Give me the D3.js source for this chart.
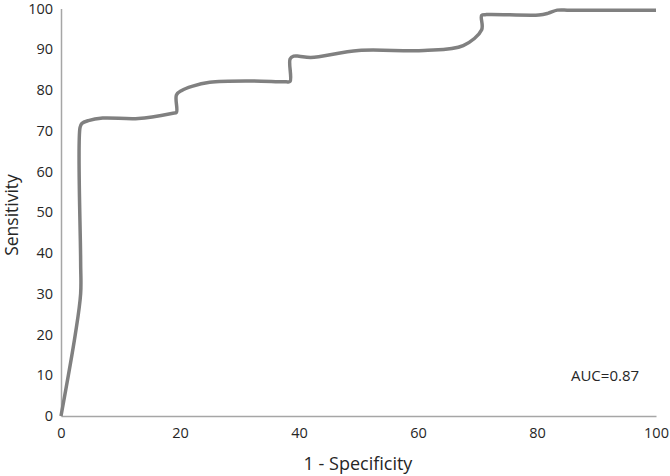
<!DOCTYPE html>
<html><head><meta charset="utf-8">
<script src="https://cdn.jsdelivr.net/npm/d3@7"></script>
<style>body{margin:0;background:#fff}</style>
</head><body>
<svg id="c" width="670" height="476"></svg>
<script>
const fpr = [0, 2.4, 3.3, 3.3, 3.2, 3.5, 4.6, 7, 13, 18.8, 19.4, 19.4, 20.3, 22, 25, 32, 37.8, 38.5, 38.5, 39.1, 40, 42, 50, 61, 67.6, 70.7, 70.7, 71.5, 80.3, 81.8, 83.4, 85.5, 100];
const tpr = [0, 20, 30, 38, 70.8, 71.8, 72.5, 73.1, 73, 74.3, 74.5, 78.8, 79.9, 80.9, 81.9, 82.2, 82, 82.1, 87.6, 88.3, 88.3, 88, 89.7, 89.7, 90.9, 94.8, 98.3, 98.5, 98.4, 98.8, 99.6, 99.6, 99.6];
const xTicks = [0, 20, 40, 60, 80, 100];
const yTicks = [0, 10, 20, 30, 40, 50, 60, 70, 80, 90, 100];
const aucLabel = "AUC=0.87";

const svg = d3.select("#c");
const font = "'Open Sans', sans-serif";
const x = d3.scaleLinear().domain([0, 100]).range([61, 656]);
const y = d3.scaleLinear().domain([0, 100]).range([416, 8.5]);
const axisColor = "#a6a6a6";

const gx = svg.append("g").attr("transform", `translate(0,${y(0)})`)
  .call(d3.axisBottom(x).tickValues(xTicks).tickSize(0).tickPadding(12));
const gy = svg.append("g").attr("transform", `translate(${x(0)},0)`)
  .call(d3.axisLeft(y).tickValues(yTicks).tickSize(0).tickPadding(8));
[gx, gy].forEach(g => {
  g.select(".domain").attr("stroke", axisColor).attr("stroke-width", 1.5);
  g.selectAll("text").attr("font-family", font).attr("font-size", 14.5).attr("fill", "#262626");
});

const pts = fpr.map((v, i) => [v, tpr[i]]);
svg.append("path").datum(pts)
  .attr("d", d3.line().x(d => x(d[0])).y(d => y(d[1])).curve(d3.curveCatmullRom.alpha(0.5)))
  .attr("fill", "none").attr("stroke", "#808080").attr("stroke-width", 3.5)
  .attr("stroke-linejoin", "round");

svg.append("text").attr("x", 605).attr("y", 381).attr("text-anchor", "middle")
  .attr("font-family", font).attr("font-size", 15).attr("fill", "#262626").text(aucLabel);
svg.append("text").attr("x", 358).attr("y", 470).attr("text-anchor", "middle")
  .attr("font-family", font).attr("font-size", 18).attr("fill", "#262626").text("1 - Specificity");
svg.append("text").attr("transform", "translate(18,215) rotate(-90)").attr("text-anchor", "middle")
  .attr("font-family", font).attr("font-size", 17.5).attr("fill", "#262626").text("Sensitivity");
</script>
</body></html>
